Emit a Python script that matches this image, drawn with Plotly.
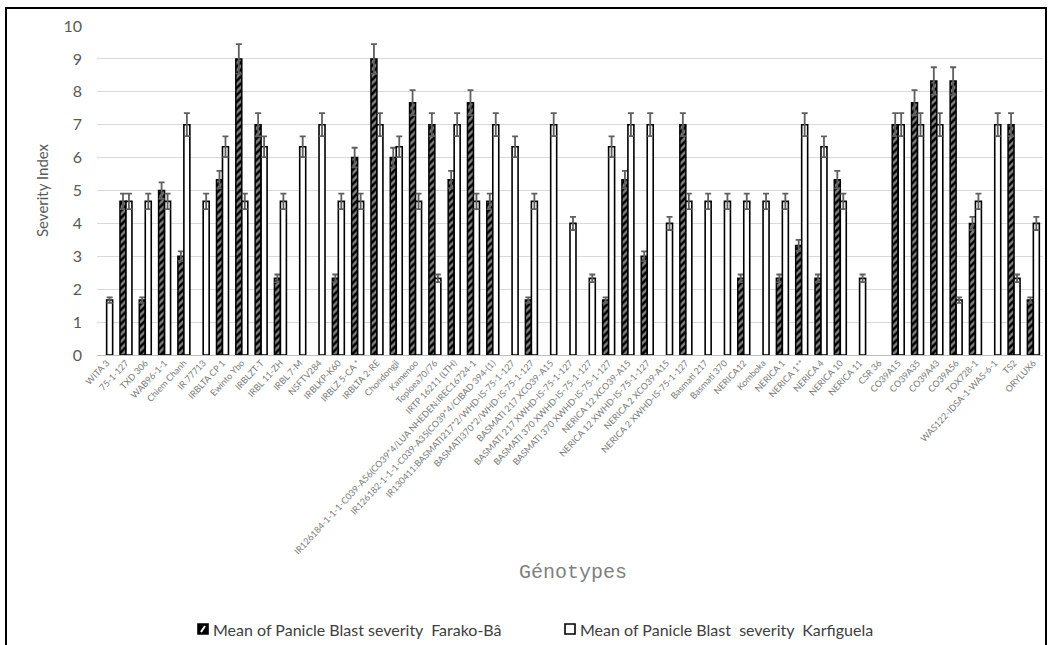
import plotly.graph_objects as go

# Genotypes in plotting order (two entries share the same name, so x is numeric)
genotypes = [
    "WITA 3", "75-1-127", "TXD 306", "WAB96-1-1", "Chiem Chanh", "IR 77713",
    "IRBLTA CP 1", "Ewinto Ybo", "IRBLZT-T", "IRBL 11-ZH", "IRBL 7-M", "NSFTV284",
    "IRBLKP-K60", "IRBLZ 5-CA *", "IRBLTA 2-RE", "Chondongji", "Kamenoo",
    "Toploea70/76", "IRTP 16211 (LTH)",
    "IR126184-1-1-1-C039-A56(CO39*4/LUA NHEDEN:IREC16724-1",
    "IR126182-1-1-1-C039-A35(CO39*4/CIBAD 394-(1)",
    "IR130411:BASMATI217*2/WHD-IS-75-1-127",
    "BASMATI370*2/WHD-IS-75-1-127",
    "BASMATI 217 XCO39-A15",
    "BASMATI 217 XWHD-IS-75-1-127",
    "BASMATI 370 XWHD-IS-75-1-127",
    "BASMATI 370 XWHD-IS-75-1-127",
    "NERICA 12 XCO39-A15",
    "NERICA 12 XWHD-IS-75-1-127",
    "NERICA 2 XCO39-A15",
    "NERICA 2 XWHD-IS-75-1-127",
    "Basmati 217", "Basmati 370", "NERICA12", "Komboka", "NERICA 1", "NERICA 1**",
    "NERICA 4", "NERICA 10", "NERICA 11", "CSR 36", "CO39A15", "CO39A35",
    "CO39A43", "CO39A56", "TOX728-1", "WAS122-IDSA-1-WAS-6-1", "TS2", "ORYLUX6",
]

# Mean panicle blast severity at Farako-Bâ (None = no bar)
farako_ba = [
    None, 4.67, 1.67, 5.0, 3.0, None,
    5.33, 9.0, 7.0, 2.33, None, None,
    2.33, 6.0, 9.0, 6.0, 7.67,
    7.0, 5.33,
    7.67,
    4.67,
    None,
    1.67,
    None,
    None,
    None,
    1.67,
    5.33,
    3.0,
    None,
    7.0,
    None, None, 2.33, None, 2.33, 3.33,
    2.33, 5.33, None, None, 7.0, 7.67,
    8.33, 8.33, 4.0, None, 7.0, 1.67,
]

# Mean panicle blast severity at Karfiguela (None = no bar)
karfiguela = [
    1.67, 4.67, 4.67, 4.67, 7.0, 4.67,
    6.33, 4.67, 6.33, 4.67, 6.33, 7.0,
    4.67, 4.67, 7.0, 6.33, 4.67,
    2.33, 7.0,
    4.67,
    7.0,
    6.33,
    4.67,
    7.0,
    4.0,
    2.33,
    6.33,
    7.0,
    7.0,
    4.0,
    4.67,
    4.67, 4.67, 4.67, 4.67, 4.67, 7.0,
    6.33, 4.67, 2.33, None, 7.0, 7.0,
    7.0, 1.67, 4.67, 7.0, 2.33, 4.0,
]

series_names = [
    "Mean of Panicle Blast severity  Farako-Bâ",
    "Mean of Panicle Blast  severity  Karfiguela",
]

y_ticks = list(range(0, 11))

x_pos = list(range(len(genotypes)))

PLOT_L, PLOT_R, PLOT_T, PLOT_B = 97, 1043, 26, 355
W, H = 1049, 645
pw, ph = PLOT_R - PLOT_L, PLOT_B - PLOT_T


def px_x(px):
    return (px - PLOT_L) / pw


def px_y(py):
    return (PLOT_B - py) / ph


err = dict(type="percent", value=5, color="#5f5f5f", thickness=1.8, width=3)

fig = go.Figure()
fig.add_trace(go.Bar(
    x=x_pos, y=farako_ba, name=series_names[0],
    marker=dict(
        color="black",
        line=dict(color="black", width=1.5),
        pattern=dict(shape="/", fgcolor="white", bgcolor="black",
                     size=5, solidity=0.5),
    ),
    error_y=err,
))
fig.add_trace(go.Bar(
    x=x_pos, y=karfiguela, name=series_names[1],
    marker=dict(color="white", line=dict(color="black", width=1.6)),
    error_y=err,
))

fig.update_layout(
    width=W, height=H,
    margin=dict(l=PLOT_L, r=W - PLOT_R, t=PLOT_T, b=H - PLOT_B),
    paper_bgcolor="white", plot_bgcolor="white",
    barmode="group", bargap=0.38, bargroupgap=0.0,
    font=dict(family="Lato, Liberation Sans, sans-serif", color="#595959"),
    showlegend=False,
    xaxis=dict(
        range=[-0.5, len(genotypes) - 0.5],
        tickmode="array", tickvals=x_pos, ticktext=genotypes,
        tickangle=-47, tickfont=dict(size=9, color="#7a7a7a"),
        showgrid=False, zeroline=False, ticks="",
        showline=False,
    ),
    yaxis=dict(
        range=[0, 10], tickmode="array", tickvals=y_ticks,
        tickfont=dict(size=16, color="#595959"),
        showgrid=True, gridcolor="#d9d9d9", gridwidth=1.3,
        zeroline=True, zerolinecolor="#bfbfbf", zerolinewidth=1.3,
        ticks="", ticklabelstandoff=14,
    ),
)

# Axis titles
fig.add_annotation(
    text="Severity Index", xref="paper", yref="paper",
    x=px_x(42), y=px_y(190), xanchor="center", yanchor="middle",
    textangle=-90, showarrow=False,
    font=dict(size=15, color="#595959"),
)
fig.add_annotation(
    text="Génotypes", xref="paper", yref="paper",
    x=px_x(573), y=px_y(572), xanchor="center", yanchor="middle",
    showarrow=False,
    font=dict(family="Liberation Mono, DejaVu Sans Mono, monospace",
              size=20, color="#7f7f7f"),
)

# Legend drawn below the axis title: swatch + label per series
legend_y = 629
sw = 10
swatch_left = [198, 565]
for i, left in enumerate(swatch_left):
    fill = "black" if i == 0 else "white"
    fig.add_shape(
        type="rect", xref="paper", yref="paper",
        x0=px_x(left), x1=px_x(left + sw),
        y0=px_y(legend_y + sw / 2), y1=px_y(legend_y - sw / 2),
        line=dict(color="black", width=1.6), fillcolor=fill,
    )
    if i == 0:
        fig.add_shape(
            type="line", xref="paper", yref="paper",
            x0=px_x(left + 3), x1=px_x(left + sw - 3),
            y0=px_y(legend_y + 3), y1=px_y(legend_y - 3),
            line=dict(color="white", width=2),
        )
    fig.add_annotation(
        text=series_names[i].replace("  ", "&nbsp; "), xref="paper", yref="paper",
        x=px_x(left + sw + 3), y=px_y(legend_y), xanchor="left", yanchor="middle",
        showarrow=False, font=dict(size=16, color="#404040"),
    )

# Outer frame around the chart
fig.add_shape(
    type="rect", xref="paper", yref="paper",
    x0=px_x(6), x1=px_x(1046), y0=px_y(660), y1=px_y(8),
    line=dict(color="black", width=2), fillcolor="rgba(0,0,0,0)", layer="above",
)

fig.write_html("out.html")
